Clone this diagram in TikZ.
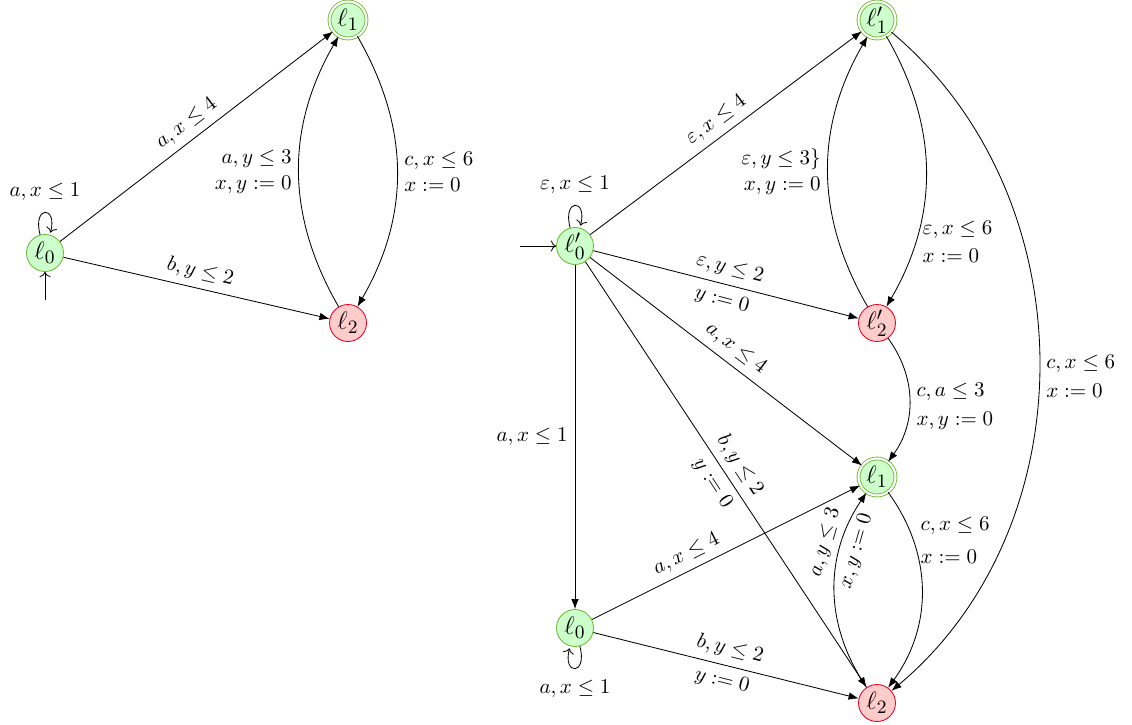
\documentclass[tikz,border=0pt]{standalone}
\usetikzlibrary{arrows.meta}
\definecolor{gfill}{RGB}{204,255,204}
\definecolor{gdraw}{RGB}{110,185,50}
\definecolor{rfill}{RGB}{255,204,204}
\definecolor{rdraw}{RGB}{230,0,30}
\begin{document}
\begin{tikzpicture}[x=0.47619pt,y=-0.47619pt,
  locg/.style={circle, draw=gdraw, fill=gfill, minimum size=17.6pt, inner sep=0pt, font=\fontsize{13}{15}\selectfont},
  locr/.style={circle, draw=rdraw, fill=rfill, minimum size=17.6pt, inner sep=0pt, font=\fontsize{13}{15}\selectfont},
  locacc/.style={locg, double=white, double distance=1pt},
  tr/.style={-{Latex}},
  lbl/.style={font=\fontsize{9.6}{11.5}\selectfont}]
\useasboundingbox (0,0) rectangle (1132,725);
% nodes
\node[locg] (A0) at (45,253) {$\ell_0$};
\node[locacc] (A1) at (348,20) {$\ell_1$};
\node[locr] (A2) at (348,323) {$\ell_2$};
\node[locg] (B0) at (575,246) {$\ell'_0$};
\node[locacc] (B1) at (877,20) {$\ell'_1$};
\node[locr] (B2) at (877,323) {$\ell'_2$};
\node[locacc] (C1) at (877,477) {$\ell_1$};
\node[locg] (C0) at (575,628) {$\ell_0$};
\node[locr] (C2) at (877,703) {$\ell_2$};
% left automaton
\coordinate (iA) at (45,300);
\draw[->] (iA) -- (A0);
\path (A0) edge[->, loop above] node[lbl, above=2pt] {$a, x \leq 1$} ();
\draw[tr] (A0) -- node[lbl, sloped, above] {$a, x \leq 4$} (A1);
\draw[tr] (A0) -- node[lbl, sloped, above] {$b, y \leq 2$} (A2);
\draw[tr] (A2) to[bend left=30] node[lbl, left, align=right] {$a, y \leq 3$\\[1pt]$x, y := 0$} (A1);
\draw[tr] (A1) to[bend left=30] node[lbl, right, align=left] {$c, x \leq 6$\\[1pt]$x := 0$} (A2);
% right automaton
\coordinate (iB) at (520,246);
\draw[->] (iB) -- (B0);
\path (B0) edge[->, loop above] node[lbl, above=2pt] {$\varepsilon, x \leq 1$} ();
\draw[tr] (B0) -- node[lbl, sloped, above] {$\varepsilon, x \leq 4$} (B1);
\draw[tr] (B2) to[bend left=30] node[lbl, left, align=right] {$\varepsilon, y \leq 3\}$\\[1pt]$x, y := 0$} (B1);
\draw[tr] (B1) to[bend left=30] node[lbl, right, align=left, pos=0.76] {$\varepsilon, x \leq 6$\\[2pt]$x := 0$} (B2);
\draw[tr] (B0) -- node[lbl, sloped, above] {$\varepsilon, y \leq 2$} node[lbl, sloped, below] {$y := 0$} (B2);
\draw[tr] (B0) -- node[lbl, sloped, above] {$a, x \leq 4$} (C1);
\draw[tr] (B0) -- node[lbl, sloped, above] {$b, y \leq 2$} node[lbl, sloped, below] {$y := 0$} (C2);
\draw[tr] (B0) -- node[lbl, left] {$a, x \leq 1$} (C0);
\draw[tr] (B2) to[bend left=36] node[lbl, right, align=left, pos=0.55] {$c, a \leq 3$\\[2pt]$x, y := 0$} (C1);
\draw[tr] (B1) to[bend left=50] node[lbl, right, align=left, pos=0.52] {$c, x \leq 6$\\[2pt]$x := 0$} (C2);
\path (C0) edge[->, loop below] node[lbl, below=2pt] {$a, x \leq 1$} ();
\draw[tr] (C0) -- node[lbl, sloped, above, pos=0.38] {$a, x \leq 4$} (C1);
\draw[tr] (C0) -- node[lbl, sloped, above] {$b, y \leq 2$} node[lbl, sloped, below] {$y := 0$} (C2);
\draw[tr] (C2) to[bend left=34] node[lbl, sloped, above, pos=0.72] {$a, y \leq 3$} node[lbl, sloped, below, pos=0.72] {$x, y := 0$} (C1);
\draw[tr] (C1) to[bend left=36] node[lbl, right, align=left, pos=0.25] {$c, x \leq 6$\\[4pt]$x := 0$} (C2);
\end{tikzpicture}
\end{document}
